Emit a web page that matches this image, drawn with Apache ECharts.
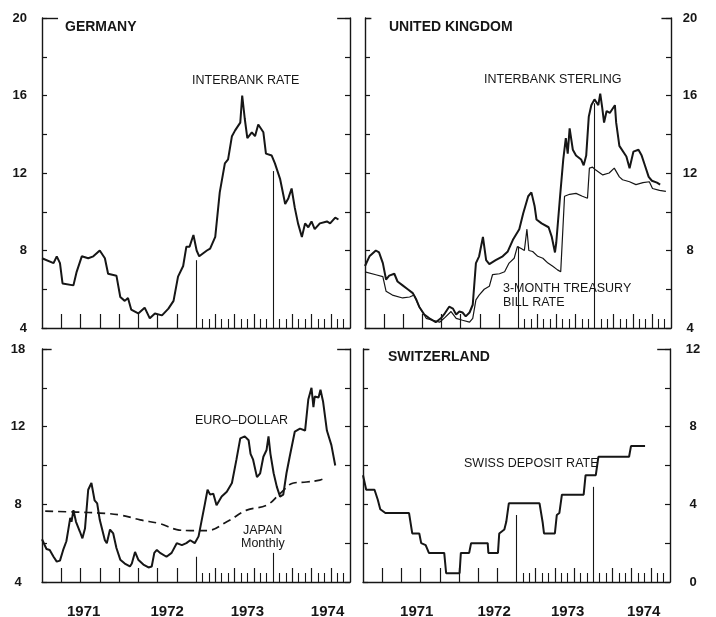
<!DOCTYPE html>
<html>
<head>
<meta charset="utf-8">
<title>Short-term interest rates 1971-1974</title>
<script src="https://cdn.jsdelivr.net/npm/echarts@6/dist/echarts.min.js"></script>
<style>
  html, body { margin: 0; padding: 0; background: #fff; }
  #chart { width: 716px; height: 617px; }
</style>
</head>
<body>
<div id="chart"></div>
<script>
// x = months counted from Jan 1971 (0) to Jan 1975 (48)
var yearLabels = ['1971', '1972', '1973', '1974'];
var blYearPos = [6.5, 19.5, 32, 44.5];
var brYearPos = [8.4, 20.5, 32, 43.9];
var quarterTicks = [3, 6, 9, 12, 15, 18, 21, 27, 30, 33, 39, 42, 45];
var monthTicks = [25, 26, 28, 29, 31, 32, 34, 35, 37, 38, 40, 41, 43, 44, 46, 47];
var yearLines = [24, 36];

// y tick labels
var deTicks = [4, 8, 12, 16, 20];
var deTickLabels = ['4', '8', '12', '16', '20'];
var ukTicks = [4, 8, 12, 16, 20];
var ukTickLabels = ['4', '8', '12', '16', '20'];
var euTicks = [4, 8, 12, 16];
var euTickLabels = ['4', '8', '12', '18'];
var chTicks = [0, 4, 8, 12];
var chTickLabels = ['0', '4', '8', '12'];

// Germany - interbank rate
var deMonths = [0, 1.8, 2.3, 2.8, 3.2, 3.5, 4.9, 5.4, 6.2, 7.2, 8.0, 9.0, 9.8, 10.3, 11.6, 12.2, 12.9, 13.4, 13.9, 15.0, 16.0, 16.8, 17.6, 18.7, 19.7, 20.5, 21.2, 22.0, 22.5, 23.0, 23.6, 24.1, 24.5, 25.7, 26.2, 27, 27.3, 27.7, 28.5, 29, 29.6, 30.1, 30.4, 30.9, 31.2, 31.6, 32, 32.7, 33.2, 33.7, 34.5, 34.9, 35.8, 36.3, 37.1, 37.9, 38.4, 38.9, 39.4, 39.9, 40.5, 41, 41.5, 42, 42.5, 43.3, 44.4, 44.9, 45.7, 46.2];
var deRate = [7.6, 7.35, 7.7, 7.35, 6.3, 6.2, 6.2, 6.9, 7.7, 7.6, 7.7, 8.0, 7.6, 6.8, 6.7, 5.6, 5.4, 5.55, 4.95, 4.75, 5.05, 4.5, 4.75, 4.65, 5.0, 5.4, 6.65, 7.2, 8.2, 8.2, 8.8, 8.0, 7.7, 8.0, 8.1, 8.7, 8.6, 11.0, 12.5, 12.7, 13.9, 14.2, 14.1, 14.6, 16.0, 14.8, 13.8, 14.1, 13.9, 14.5, 14.1, 13.0, 12.9, 12.5, 11.7, 10.4, 10.7, 11.2, 10.2, 9.4, 8.7, 9.4, 9.2, 9.5, 9.1, 9.4, 9.5, 9.4, 9.7, 9.6];
var deDropTops = [7.5, 12.1];

// United Kingdom - interbank sterling
var ukIbMonths = [0, 0.7, 1.7, 2.2, 2.8, 3.3, 3.8, 4.6, 5.1, 5.9, 6.7, 7.5, 8, 8.5, 9.3, 10.1, 11.1, 11.9, 12.4, 13.2, 13.8, 14.3, 14.8, 15.3, 15.8, 16.4, 16.9, 17.4, 17.9, 18.5, 19, 19.5, 20.5, 21.6, 22.4, 23.2, 24.2, 24.8, 25.6, 26.1, 26.6, 26.9, 27.7, 28.8, 29.3, 29.8, 30.0, 30.6, 31.1, 31.5, 31.8, 32.1, 32.6, 33.1, 33.9, 34.3, 34.7, 35.1, 35.5, 36.0, 36.6, 36.9, 37.2, 37.5, 37.9, 38.4, 39.2, 39.4, 39.9, 40.2, 41.0, 41.5, 42.1, 42.9, 43.4, 43.9, 44.5, 45.0, 45.8, 46.3];
var ukInterbank = [7.2, 7.7, 8.0, 7.9, 7.35, 6.5, 6.7, 6.8, 6.4, 6.2, 6.0, 5.8, 5.5, 5.1, 4.7, 4.5, 4.3, 4.5, 4.7, 5.1, 5.0, 4.7, 4.85, 4.8, 4.6, 4.8, 5.2, 7.35, 7.7, 8.7, 7.5, 7.3, 7.5, 7.7, 7.95, 8.55, 9.1, 9.9, 10.8, 11.0, 10.3, 9.6, 9.4, 9.2, 8.7, 7.9, 8.4, 10.8, 12.7, 13.8, 13.0, 14.3, 13.2, 12.9, 12.7, 12.4, 12.9, 14.9, 15.5, 15.8, 15.5, 16.1, 15.4, 14.6, 15.2, 15.1, 15.5, 14.6, 13.4, 13.5, 12.85, 12.25, 13.1, 13.2, 12.9, 12.4, 11.8, 11.6, 11.5, 11.4];
// United Kingdom - 3-month treasury bill
var ukTbMonths = [0, 1.7, 2.8, 3.3, 4.3, 5.9, 7, 7.7, 8.5, 9.6, 10.6, 11.7, 12.4, 13.5, 14.3, 15.3, 16.4, 16.9, 17.4, 17.9, 18.7, 19.5, 20, 21.1, 21.9, 22.6, 23.4, 23.9, 24.5, 25, 25.4, 25.7, 26.3, 27.1, 27.9, 28.7, 29.4, 30.2, 30.7, 31.3, 32.1, 33.1, 34.1, 34.9, 35.2, 35.7, 36.2, 37.3, 38.3, 39.1, 39.9, 40.4, 41.5, 42.5, 43.6, 44.6, 45.1, 46.2, 47.2];
var ukTreasury = [6.9, 6.75, 6.65, 5.9, 5.7, 5.55, 5.6, 5.7, 5.1, 4.5, 4.4, 4.3, 4.5, 4.85, 4.5, 4.4, 4.3, 4.5, 5.45, 5.7, 6.0, 6.15, 6.75, 6.8, 6.9, 7.35, 7.6, 8.2, 8.1, 8.0, 9.1, 8.0, 7.95, 7.7, 7.6, 7.35, 7.2, 7.0, 6.9, 10.8, 10.9, 10.95, 10.8, 10.7, 12.25, 12.3, 12.15, 11.9, 12.0, 12.25, 11.8, 11.65, 11.55, 11.4, 11.5, 11.55, 11.2, 11.1, 11.05];
var ukDropTops = [8.2, 15.6];

// Euro-dollar and Japan (monthly)
var euMonths = [0, 0.7, 1.2, 1.8, 2.3, 2.8, 3.3, 3.8, 4.1, 4.4, 4.6, 4.9, 5.3, 5.9, 6.3, 6.7, 7.2, 7.7, 8.2, 8.6, 9, 9.8, 10.1, 10.6, 11.1, 11.6, 12.2, 12.9, 13.7, 14, 14.5, 15, 15.8, 16.6, 17.1, 17.5, 17.9, 18.4, 19.4, 20.2, 21, 21.8, 22.5, 23.1, 23.8, 24.4, 24.9, 25.4, 25.8, 26.2, 26.7, 27.2, 28, 28.8, 29.6, 30.3, 30.9, 31.6, 32.2, 32.5, 32.9, 33.5, 34, 34.5, 35, 35.3, 35.6, 36.1, 36.6, 37.1, 37.6, 38.1, 38.6, 39.4, 40.2, 41, 41.5, 42, 42.3, 42.5, 43.1, 43.4, 43.8, 44.4, 44.6, 45.1, 45.7];
var euroDollar = [6.2, 5.7, 5.65, 5.3, 5.05, 5.1, 5.65, 6.1, 6.7, 7.3, 7.1, 7.7, 7.1, 6.6, 6.25, 6.75, 8.75, 9.1, 8.2, 8.05, 7.2, 6.15, 6.0, 6.7, 6.5, 5.75, 5.15, 4.95, 4.8, 4.95, 5.55, 5.15, 4.9, 4.75, 4.8, 5.5, 5.65, 5.5, 5.3, 5.5, 6.0, 5.9, 6.0, 6.15, 6.0, 6.35, 7.2, 8.05, 8.75, 8.5, 8.55, 7.95, 8.4, 8.65, 9.1, 10.3, 11.4, 11.5, 11.3, 10.6, 10.3, 9.4, 9.6, 10.45, 10.8, 11.5, 10.6, 9.6, 8.9, 8.4, 8.5, 9.6, 10.45, 11.75, 11.9, 11.8, 13.4, 14.0, 13.0, 13.55, 13.5, 13.9, 13.3, 11.8, 11.9, 11.05, 10.0];
var jpMonths = [0.5, 5.4, 9, 12.2, 15.3, 18.4, 21, 23.1, 25.7, 28.8, 31.9, 35, 37.1, 39.2, 41.2, 43.3, 44.1];
var japan = [7.65, 7.6, 7.55, 7.45, 7.2, 7.0, 6.7, 6.65, 6.65, 7.1, 7.7, 7.95, 8.55, 9.1, 9.15, 9.25, 9.35];
var euDropTops = [5.3, 5.5];

// Switzerland - deposit rate
var chMonths = [0, 0.5, 1.8, 2.3, 2.7, 3.5, 7.2, 7.7, 8.8, 9.1, 9.8, 10.3, 12.7, 13, 15.1, 15.3, 16.6, 16.9, 19.5, 19.6, 21.1, 21.3, 22.1, 22.4, 22.8, 27.6, 28.1, 28.3, 30, 30.3, 30.7, 31.1, 34.5, 34.8, 36.4, 36.8, 41.6, 41.9, 44.1];
var chDeposit = [5.5, 4.75, 4.75, 4.25, 3.75, 3.55, 3.55, 2.5, 2.5, 2.0, 1.9, 1.5, 1.5, 0.45, 0.45, 1.5, 1.5, 2.0, 2.0, 1.5, 1.5, 2.5, 2.7, 3.1, 4.05, 4.05, 3.05, 2.5, 2.5, 3.45, 3.55, 4.5, 4.5, 5.5, 5.5, 6.45, 6.45, 7.0, 7.0];
var chDropTops = [3.45, 4.9];

var ink = '#161616';
var font = "'Liberation Sans', Arial, sans-serif";

function zip(xs, ys) {
  return xs.map(function (x, i) { return [x, ys[i]]; });
}

// left + right value axis of one panel, ticks every 2 pointing inward
function yAxes(g, min, max, ticks, labels, side, margin, align) {
  var base = {
    gridIndex: g, type: 'value', min: min, max: max, interval: 2,
    axisLine: { show: true, onZero: false, lineStyle: { color: ink, width: 1.4 } },
    axisTick: { show: true, inside: true, length: 5, lineStyle: { color: ink, width: 1.2 } },
    splitLine: { show: false },
    axisLabel: { show: false }
  };
  var lab = {
    show: true, customValues: ticks, margin: margin, align: align,
    color: ink, fontSize: 13, fontWeight: 'bold', fontFamily: font,
    formatter: function (v) { var i = ticks.indexOf(v); return i < 0 ? '' : labels[i]; }
  };
  var left = Object.assign({}, base, { position: 'left' });
  var right = Object.assign({}, base, { position: 'right' });
  if (side === 'left') left.axisLabel = lab; else right.axisLabel = lab;
  return [left, right];
}

// bottom time axis: quarter ticks (long) + month ticks (short) as two overlaid axes
function xAxes(g, yearPos) {
  var main = {
    gridIndex: g, type: 'value', min: 0, max: 48, position: 'bottom',
    axisLine: { show: true, onZero: false, lineStyle: { color: ink, width: 1.4 } },
    axisTick: { show: true, inside: true, length: 14, customValues: quarterTicks, lineStyle: { color: ink, width: 1.2 } },
    splitLine: { show: false },
    axisLabel: { show: false }
  };
  if (yearPos) {
    main.axisLabel = {
      show: true, customValues: yearPos, margin: 22,
      color: ink, fontSize: 15, fontWeight: 'bold', fontFamily: font,
      formatter: function (v) { var i = yearPos.indexOf(v); return i < 0 ? '' : yearLabels[i]; }
    };
  }
  var months = {
    gridIndex: g, type: 'value', min: 0, max: 48, position: 'bottom',
    axisLine: { show: false, onZero: false },
    axisTick: { show: true, inside: true, length: 9, customValues: monthTicks, lineStyle: { color: ink, width: 1.1 } },
    splitLine: { show: false },
    axisLabel: { show: false }
  };
  return [main, months];
}

// year drop lines and the short top corners of the frame
function panelMarks(min, max, dropTops, cornerL, cornerR) {
  var items = yearLines.map(function (m, i) {
    return [{ coord: [m, min] }, { coord: [m, dropTops[i]] }];
  });
  items.push([{ coord: [0, max], lineStyle: { width: 1.4 } }, { coord: [cornerL, max] }]);
  items.push([{ coord: [48 - cornerR, max], lineStyle: { width: 1.4 } }, { coord: [48, max] }]);
  return {
    symbol: ['none', 'none'], silent: true, animation: false,
    label: { show: false },
    lineStyle: { color: ink, width: 1.1, type: 'solid' },
    emphasis: { disabled: true },
    data: items
  };
}

function line(g, data, width, extra) {
  return Object.assign({
    type: 'line', xAxisIndex: 2 * g, yAxisIndex: 2 * g, data: data,
    showSymbol: false, symbol: 'none', silent: true,
    lineStyle: { color: ink, width: width }
  }, extra || {});
}

function label(text, left, top, bold, size) {
  return {
    type: 'text', left: left, top: top, silent: true,
    style: { text: text, fill: ink, font: (bold ? 'bold ' : '') + size + 'px ' + font }
  };
}

var chart = echarts.init(document.getElementById('chart'), null, { renderer: 'canvas' });

chart.setOption({
  animation: false,
  backgroundColor: '#fff',
  textStyle: { fontFamily: font },
  grid: [
    { left: 42, top: 18, width: 308, height: 310, outerBoundsMode: 'none' },
    { left: 365, top: 18, width: 306, height: 310, outerBoundsMode: 'none' },
    { left: 42, top: 349, width: 308, height: 233, outerBoundsMode: 'none' },
    { left: 363, top: 349, width: 307, height: 233, outerBoundsMode: 'none' }
  ],
  xAxis: [].concat(
    xAxes(0, null), xAxes(1, null), xAxes(2, blYearPos), xAxes(3, brYearPos)
  ),
  yAxis: [].concat(
    yAxes(0, 4, 20, deTicks, deTickLabels, 'left', 15, 'right'),
    yAxes(1, 4, 20, ukTicks, ukTickLabels, 'right', 19, 'center'),
    yAxes(2, 4, 16, euTicks, euTickLabels, 'left', 24, 'center'),
    yAxes(3, 0, 12, chTicks, chTickLabels, 'right', 23, 'center')
  ),
  series: [
    line(0, zip(deMonths, deRate), 2, { markLine: panelMarks(4, 20, deDropTops, 2.5, 2) }),
    line(1, zip(ukIbMonths, ukInterbank), 2, { markLine: panelMarks(4, 20, ukDropTops, 1, 1.5) }),
    line(1, zip(ukTbMonths, ukTreasury), 1.2),
    line(2, zip(euMonths, euroDollar), 2, { markLine: panelMarks(4, 16, euDropTops, 1.5, 2) }),
    line(2, zip(jpMonths, japan), 1.7, { smooth: 0.4, lineStyle: { color: ink, width: 1.7, type: [8, 5] } }),
    line(3, zip(chMonths, chDeposit), 2, { markLine: panelMarks(0, 12, chDropTops, 1, 2) })
  ],
  graphic: [
    label('GERMANY', 65, 20, true, 14),
    label('UNITED KINGDOM', 389, 20, true, 14),
    label('SWITZERLAND', 388, 350, true, 14),
    label('INTERBANK RATE', 192, 74, false, 12.5),
    label('INTERBANK STERLING', 484, 73, false, 12.5),
    label('3-MONTH TREASURY', 503, 282, false, 12.5),
    label('BILL RATE', 503, 296, false, 12.5),
    label('EURO\u2013DOLLAR', 195, 414, false, 12.5),
    label('JAPAN', 243, 524, false, 12.5),
    label('Monthly', 241, 537, false, 12.5),
    label('SWISS DEPOSIT RATE', 464, 457, false, 12.5)
  ]
});
</script>
</body>
</html>
